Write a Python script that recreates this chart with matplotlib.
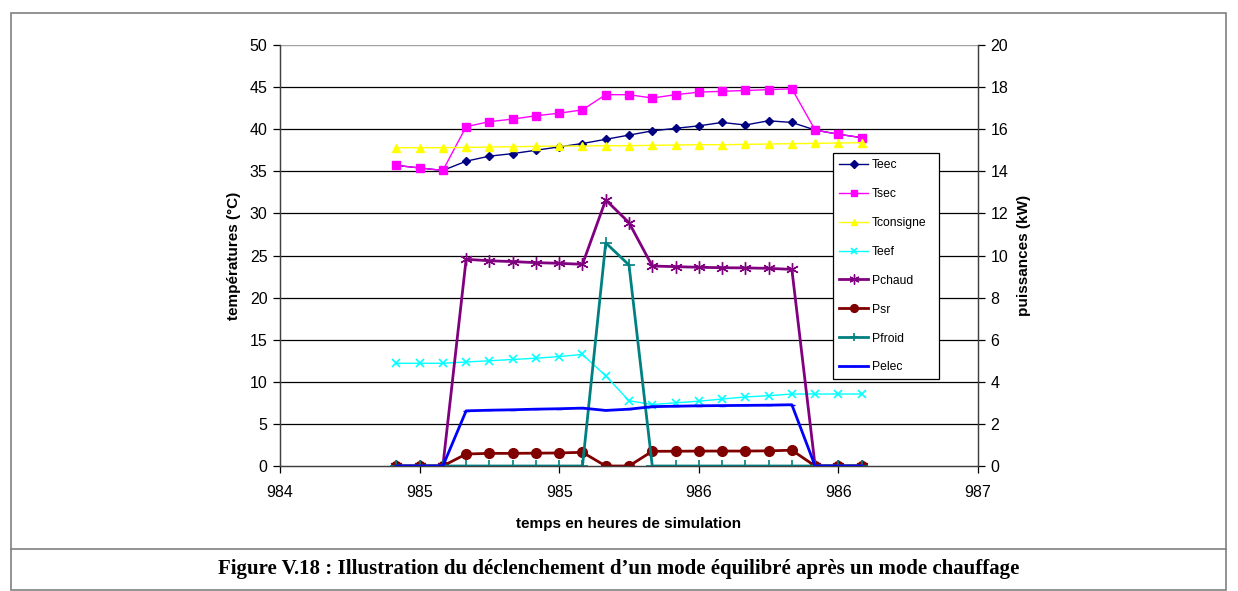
import matplotlib
matplotlib.use("Agg")
import matplotlib.pyplot as plt
from matplotlib.ticker import FormatStrFormatter
from matplotlib.patches import Rectangle
from matplotlib.lines import Line2D

plt.rcParams['font.family'] = ['Liberation Sans', 'DejaVu Sans']

# temps de simulation (h)
temps = [984.5, 984.6, 984.7, 984.8, 984.9, 985.0, 985.1, 985.2, 985.3, 985.4, 985.5,
         985.6, 985.7, 985.8, 985.9, 986.0, 986.1, 986.2, 986.3, 986.4, 986.5]

# températures (°C) - axe gauche
teec = [35.7, 35.4, 35.1, 36.2, 36.8, 37.1, 37.5, 37.9, 38.3, 38.8, 39.3,
        39.8, 40.1, 40.4, 40.8, 40.5, 41.0, 40.8, 39.9, 39.4, 39.0]
tsec = [35.7, 35.4, 35.1, 40.3, 40.9, 41.2, 41.6, 41.9, 42.3, 44.1, 44.1,
        43.7, 44.1, 44.4, 44.5, 44.6, 44.7, 44.8, 39.9, 39.4, 39.0]
tconsigne = [37.8, 37.8, 37.8, 37.84, 37.88, 37.92, 37.96, 38.0, 38.0, 38.04, 38.04,
             38.08, 38.12, 38.16, 38.16, 38.2, 38.24, 38.28, 38.32, 38.36, 38.4]
teef = [12.2, 12.2, 12.2, 12.35, 12.5, 12.65, 12.8, 13.0, 13.25, 10.7, 7.75,
        7.3, 7.5, 7.7, 7.95, 8.2, 8.35, 8.55, 8.55, 8.55, 8.55]

# puissances (kW) - axe droit
pchaud = [0, 0, 0, 9.82, 9.75, 9.71, 9.66, 9.63, 9.58, 12.64, 11.56,
          9.5, 9.47, 9.44, 9.42, 9.41, 9.39, 9.34, 0, 0, 0]
psr = [0, 0, 0, 0.57, 0.6, 0.6, 0.61, 0.62, 0.65, 0, 0,
       0.7, 0.7, 0.71, 0.71, 0.71, 0.72, 0.75, 0, 0, 0]
pfroid = [0, 0, 0, 0, 0, 0, 0, 0, 0, 10.6, 9.55,
          0, 0, 0, 0, 0, 0, 0, 0, 0, 0]
pelec = [0, 0, 0, 2.62, 2.65, 2.67, 2.7, 2.72, 2.75, 2.64, 2.7,
         2.82, 2.84, 2.86, 2.87, 2.88, 2.89, 2.91, 0, 0, 0]

fig = plt.figure(figsize=(12.38, 5.91), dpi=100)
W, H = 1238, 591

# cadre de la figure + ligne de la légende
fig.patches.append(Rectangle((11 / W, 1 - 590 / H), (1226 - 11) / W, (590 - 13) / H,
                             transform=fig.transFigure, fill=False, ec='#808080', lw=1.2))
fig.lines.append(Line2D([11 / W, 1226 / W], [1 - 549 / H, 1 - 549 / H],
                        transform=fig.transFigure, color='#808080', lw=1.2))

ax1 = fig.add_axes([280 / W, 1 - 466 / H, 698 / W, 421 / H])
ax2 = ax1.twinx()

ax1.plot(temps, teec, color='#000080', lw=1, marker='D', ms=4.5, label='Teec')
ax1.plot(temps, tsec, color='#FF00FF', lw=1, marker='s', ms=6, label='Tsec')
ax1.plot(temps, tconsigne, color='#FFFF00', lw=1, marker='^', ms=6, label='Tconsigne')
ax1.plot(temps, teef, color='#00FFFF', lw=1, marker='x', ms=6, mew=1.2, label='Teef')

ax2.plot(temps, pchaud, color='#800080', lw=2, marker=(6, 2, 0), ms=9, mew=1, label='Pchaud')
ax2.plot(temps, psr, color='#800000', lw=2, marker='o', ms=7, label='Psr')
ax2.plot(temps, pfroid, color='#008080', lw=2, marker='+', ms=8, mew=1.2, label='Pfroid')
ax2.plot(temps, pelec, color='#0000FF', lw=2, marker='_', ms=4, label='Pelec')

ax1.set_xlim(984, 987)
ax1.set_xticks([984, 984.6, 985.2, 985.8, 986.4, 987])
ax1.xaxis.set_major_formatter(FormatStrFormatter('%.0f'))
ax1.set_ylim(0, 50)
ax1.set_yticks(range(0, 51, 5))
ax2.set_ylim(0, 20)
ax2.set_yticks(range(0, 21, 2))

for y in range(5, 50, 5):
    ax1.axhline(y, color='black', lw=0.9, zorder=0)
ax1.axhline(50, color='#a0a0a0', lw=1, zorder=0)

for ax in (ax1, ax2):
    ax.spines['top'].set_visible(False)
    ax.tick_params(direction='out', length=5, width=0.9, labelsize=11.5, colors='black')
    for s in ('left', 'right', 'bottom'):
        ax.spines[s].set_color('#404040')
        ax.spines[s].set_linewidth(0.9)
ax1.tick_params(axis='x', pad=9)
ax1.tick_params(axis='y', pad=4)
ax2.tick_params(axis='y', pad=4)

ax1.set_xlabel('temps en heures de simulation', fontsize=11, fontweight='bold', labelpad=12)
ax1.set_ylabel('températures (°C)', fontsize=11, fontweight='bold', labelpad=6)
ax2.set_ylabel('puissances (kW)', fontsize=11, fontweight='bold', labelpad=6)

h1, l1 = ax1.get_legend_handles_labels()
h2, l2 = ax2.get_legend_handles_labels()
leg = ax2.legend(h1 + h2, l1 + l2, loc='upper left',
                 bbox_to_anchor=(553 / 698, (466 - 383) / 421, 106 / 698, (383 - 153) / 421),
                 mode='expand', borderaxespad=0, fontsize=8.7, labelspacing=1.4,
                 handlelength=2.4, handletextpad=0.3, borderpad=0.5, fancybox=False,
                 framealpha=1, edgecolor='black', markerscale=0.8)
leg.get_frame().set_linewidth(0.9)

fig.text(0.5, 1 - 569 / H, 'Figure V.18 : Illustration du déclenchement d\u2019un mode équilibré après un mode chauffage',
         ha='center', va='center', fontsize=15, fontweight='bold', family=['Liberation Serif', 'DejaVu Serif'])

fig.savefig('out.png', dpi=100)
